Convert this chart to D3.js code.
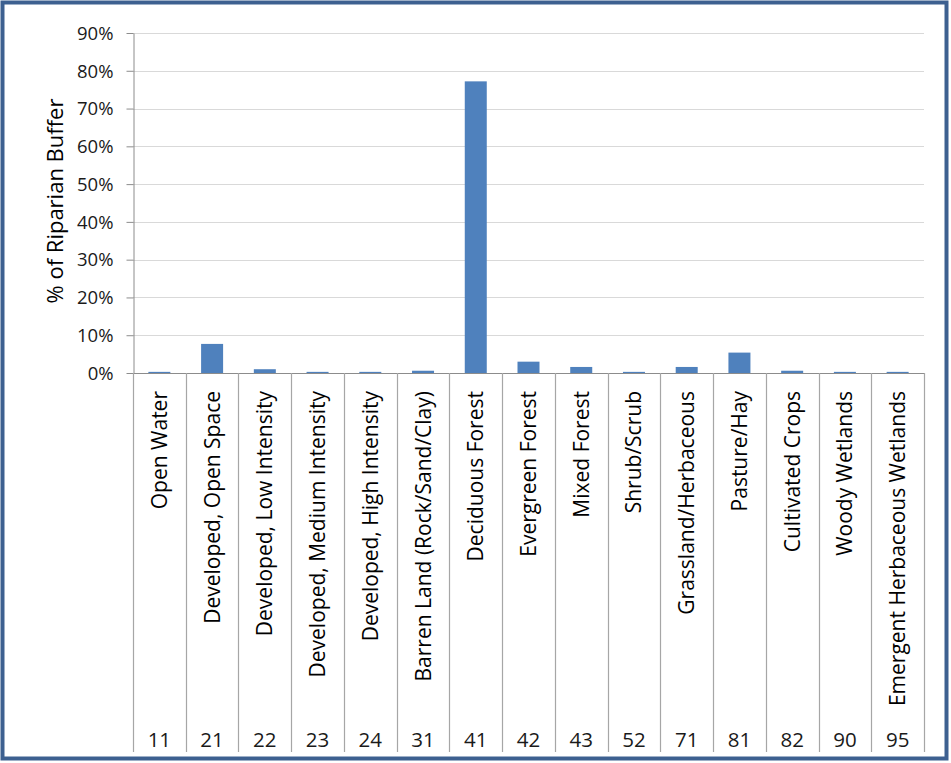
<!DOCTYPE html>
<html><head><meta charset="utf-8">
<script src="https://cdn.jsdelivr.net/npm/d3@7"></script>
<style>body{margin:0;background:#fff}svg{display:block}</style>
</head><body>
<script>
const categories = ["Open Water","Developed, Open Space","Developed, Low Intensity","Developed, Medium Intensity","Developed, High Intensity","Barren Land (Rock/Sand/Clay)","Deciduous Forest","Evergreen Forest","Mixed Forest","Shrub/Scrub","Grassland/Herbaceous","Pasture/Hay","Cultivated Crops","Woody Wetlands","Emergent Herbaceous Wetlands"];
const codes = ["11","21","22","23","24","31","41","42","43","52","71","81","82","90","95"];
const values = [0.003,0.077,0.010,0.003,0.003,0.006,0.772,0.030,0.016,0.003,0.016,0.054,0.006,0.003,0.003];
const yTicks = [0,0.1,0.2,0.3,0.4,0.5,0.6,0.7,0.8,0.9];
const yTitle = "% of Riparian Buffer";

const W=951,H=763;
const font="'Open Sans', sans-serif";
const svg=d3.select("body").append("svg").attr("width",W).attr("height",H);
svg.append("rect").attr("x",2.5).attr("y",2.5).attr("width",W-7).attr("height",H-7)
  .attr("fill","#fff").attr("stroke","#3d6090").attr("stroke-width",4);

const x0=133,x1=924,yTop=33,yBot=373,yEnd=752;
const x=d3.scaleBand().domain(codes).range([x0,x1]).paddingInner(0).paddingOuter(0);
const y=d3.scaleLinear().domain([0,0.9]).range([yBot,yTop]);

// gridlines
svg.append("g").selectAll("line").data(yTicks.slice(1)).join("line")
  .attr("x1",x0).attr("x2",x1).attr("y1",d=>Math.round(y(d))+0.5).attr("y2",d=>Math.round(y(d))+0.5)
  .attr("stroke","#d9d9d9").attr("stroke-width",1.2);

// y axis
const ya=svg.append("g").attr("transform",`translate(${x0+0.5},0)`)
  .call(d3.axisLeft(y).tickValues(yTicks).tickFormat(d3.format(".0%")).tickSize(7).tickSizeOuter(0));
ya.select(".domain").attr("stroke","#8c8c8c");
ya.selectAll(".tick line").attr("stroke","#8c8c8c");
ya.selectAll(".tick text").attr("font-family",font).attr("font-size",18.5).attr("fill","#1a1a1a").attr("x",-20).attr("dy","0.34em");

// bars
const bw=22;
svg.append("g").selectAll("rect").data(values).join("rect")
  .attr("x",(d,i)=>x(codes[i])+x.bandwidth()/2-bw/2).attr("width",bw)
  .attr("y",d=>y(d)).attr("height",d=>yBot-y(d)).attr("fill","#4f81bd");

// x axis baseline and dividers
svg.append("line").attr("x1",x0).attr("x2",x1).attr("y1",yBot+0.5).attr("y2",yBot+0.5).attr("stroke","#8c8c8c").attr("stroke-width",1.2);
const divs=codes.map(c=>x(c)).concat([x1]);
svg.append("g").selectAll("line").data(divs).join("line")
  .attr("x1",d=>Math.round(d)+0.5).attr("x2",d=>Math.round(d)+0.5).attr("y1",yBot).attr("y2",yEnd)
  .attr("stroke","#a6a6a6").attr("stroke-width",1.2);

// category labels
svg.append("g").selectAll("text").data(categories).join("text")
  .attr("transform",(d,i)=>`translate(${x(codes[i])+x.bandwidth()/2+7.5},391) rotate(-90)`)
  .attr("text-anchor","end").attr("font-family",font).attr("font-size",21).attr("fill","#000").text(d=>d);

// codes
svg.append("g").selectAll("text").data(codes).join("text")
  .attr("x",d=>x(d)+x.bandwidth()/2).attr("y",747).attr("text-anchor","middle")
  .attr("font-family",font).attr("font-size",20.5).attr("fill","#1a1a1a").text(d=>d);

// y title
svg.append("text").attr("transform",`translate(63,201) rotate(-90)`).attr("text-anchor","middle")
  .attr("font-family",font).attr("font-size",22).attr("fill","#000").text(yTitle);
</script>
</body></html>
